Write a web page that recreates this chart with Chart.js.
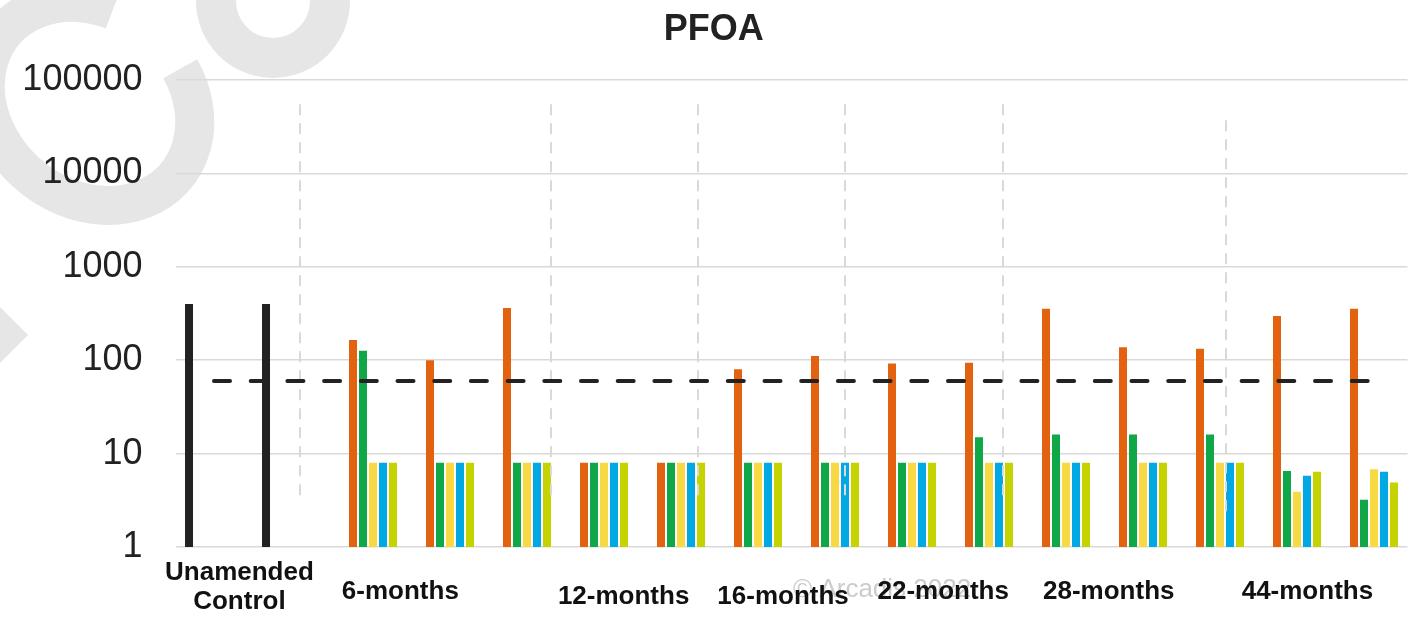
<!DOCTYPE html>
<html>
<head>
<meta charset="utf-8">
<title>PFOA</title>
<script src="https://cdn.jsdelivr.net/npm/chart.js@4.4.1/dist/chart.umd.min.js"></script>
<style>
  html, body { margin: 0; padding: 0; background: #ffffff; }
  #wrap { position: relative; width: 1409px; height: 621px; }
</style>
</head>
<body>
<div id="wrap"><canvas id="chart"></canvas></div>
<script>
// Sample columns along the x axis (two controls, then the amended samples by time point)
const samples = ['UC-1', 'UC-2',
  '6M-1', '6M-2', '6M-3',
  '12M-1', '12M-2',
  '16M-1', '16M-2',
  '22M-1', '22M-2',
  '28M-1', '28M-2', '28M-3',
  '44M-1', '44M-2'];

// PFOA concentrations per series
const controlValues = [400, 400, null, null, null, null, null, null, null, null, null, null, null, null, null, null];
const series1 = [null, null, 165, 100, 362, 8, 8, 80, 111, 92, 94, 355, 138, 133, 297, 355];
const series2 = [null, null, 126, 8, 8, 8, 8, 8, 8, 8, 15, 16, 16, 16, 6.5, 3.2];
const series3 = [null, null, 8, 8, 8, 8, 8, 8, 8, 8, 8, 8, 8, 8, 3.9, 6.8];
const series4 = [null, null, 8, 8, 8, 8, 8, 8, 8, 8, 8, 8, 8, 8, 5.8, 6.4];
const series5 = [null, null, 8, 8, 8, 8, 8, 8, 8, 8, 8, 8, 8, 8, 6.4, 4.9];

// Screening level drawn as a dashed reference line
const screeningLevel = [60, 60, 60, 60, 60, 60, 60, 60, 60, 60, 60, 60, 60, 60, 60, 60];

// Log axis tick values
const yTickValues = [1, 10, 100, 1000, 10000, 100000];

// Time-point captions under the axis
const periodLabels = [['Unamended', 'Control'], ['6-months'], ['12-months'], ['16-months'], ['22-months'], ['28-months'], ['44-months']];

// Layout of captions and group dividers (x in category units, y in axis values / pixels below the plot)
const captionLayout = [
  { x: 0.33, dy: [26, 55] },
  { x: 2.42, dy: [45] },
  { x: 5.32, dy: [50] },
  { x: 7.39, dy: [50] },
  { x: 9.47, dy: [45] },
  { x: 11.62, dy: [45] },
  { x: 14.20, dy: [45] }
];
const dividerLayout = [
  { x: 1.117, top: 55000, bottom: 3.37 },
  { x: 4.381, top: 55000, bottom: 3.37 },
  { x: 6.290, top: 55000, bottom: 3.37 },
  { x: 8.191, top: 55000, bottom: 3.37 },
  { x: 10.251, top: 55000, bottom: 3.37 },
  { x: 13.139, top: 37000, bottom: 2.2 }
];

const FONT = "'Liberation Sans', Arial, Helvetica, sans-serif";
const DEG = Math.PI / 180;

const decorations = {
  id: 'decorations',
  beforeDraw(chart) {
    // light grey logo marks in the background
    const ctx = chart.ctx;
    ctx.save();
    ctx.strokeStyle = '#e6e6e6';
    ctx.fillStyle = '#e6e6e6';
    ctx.lineWidth = 39;
    ctx.beginPath();
    ctx.ellipse(90, 104, 112, 93.5, 40 * DEG, -65.5 * DEG, 247.5 * DEG);
    ctx.stroke();
    ctx.lineWidth = 40;
    ctx.beginPath();
    ctx.arc(273, 1, 57, 0, Math.PI * 2);
    ctx.stroke();
    ctx.beginPath();
    ctx.moveTo(0, 307);
    ctx.lineTo(28, 335);
    ctx.lineTo(0, 363);
    ctx.closePath();
    ctx.fill();
    ctx.restore();
  },
  beforeDatasetDraw(chart, args) {
    // group dividers sit above the bars but below the dashed screening line
    if (args.meta.type !== 'line') return;
    const ctx = chart.ctx;
    const xs = chart.scales.x, ys = chart.scales.y;
    ctx.save();
    ctx.strokeStyle = '#d9d9d9';
    ctx.lineWidth = 2;
    ctx.setLineDash([11, 8]);
    dividerLayout.forEach(d => {
      const px = Math.round(xs.getPixelForValue(d.x));
      ctx.beginPath();
      ctx.moveTo(px, ys.getPixelForValue(d.top));
      ctx.lineTo(px, ys.getPixelForValue(d.bottom));
      ctx.stroke();
    });
    ctx.restore();
  },
  afterDraw(chart) {
    const ctx = chart.ctx;
    const xs = chart.scales.x;
    const bottom = chart.chartArea.bottom;
    ctx.save();
    ctx.textBaseline = 'middle';
    // copyright mark
    ctx.fillStyle = '#cccccc';
    ctx.textAlign = 'left';
    ctx.font = '26px ' + FONT;
    ctx.fillText('\u00A9 Arcadis 2022', 793, 590);
    // time-point captions
    ctx.fillStyle = '#111111';
    ctx.textAlign = 'center';
    ctx.font = 'bold 26px ' + FONT;
    periodLabels.forEach((lines, i) => {
      const lay = captionLayout[i];
      const px = xs.getPixelForValue(lay.x);
      lines.forEach((t, j) => ctx.fillText(t, px, bottom + lay.dy[j]));
    });
    ctx.restore();
  }
};

const barCommon = {
  type: 'bar',
  categoryPercentage: 0.779,
  barPercentage: 0.8,
  borderWidth: 0,
  order: 1
};

new Chart(document.getElementById('chart'), {
  data: {
    labels: samples,
    datasets: [
      Object.assign({ label: 'Unamended control', data: controlValues, backgroundColor: '#222222' }, barCommon),
      Object.assign({ label: 'Series 1', data: series1, backgroundColor: '#e36210' }, barCommon),
      Object.assign({ label: 'Series 2', data: series2, backgroundColor: '#10a748' }, barCommon),
      Object.assign({ label: 'Series 3', data: series3, backgroundColor: '#f7d944' }, barCommon),
      Object.assign({ label: 'Series 4', data: series4, backgroundColor: '#00a9e3' }, barCommon),
      Object.assign({ label: 'Series 5', data: series5, backgroundColor: '#c5d300' }, barCommon),
      {
        type: 'line',
        label: 'Screening level',
        data: screeningLevel,
        borderColor: '#222222',
        borderWidth: 4,
        borderDash: [16, 20.7],
        borderCapStyle: 'round',
        pointRadius: 0,
        fill: false,
        order: 0
      }
    ]
  },
  options: {
    responsive: true,
    maintainAspectRatio: false,
    animation: false,
    layout: { padding: { left: 20, right: 1.5, top: 0, bottom: 74 } },
    plugins: {
      legend: { display: false },
      tooltip: { enabled: false },
      title: {
        display: true,
        text: 'PFOA',
        color: '#222222',
        font: { family: FONT, size: 36, weight: 'bold' },
        padding: { top: 8, bottom: 28.8 }
      }
    },
    scales: {
      x: {
        type: 'category',
        display: false,
        offset: true
      },
      y: {
        type: 'logarithmic',
        min: 1,
        max: 100000,
        afterBuildTicks(scale) {
          scale.ticks = yTickValues.map(v => ({ value: v }));
        },
        afterFit(scale) {
          scale.width = 155.5;
        },
        border: { display: false },
        grid: { color: '#d9d9d9', lineWidth: 1.5, drawTicks: false },
        ticks: {
          color: '#222222',
          padding: 33,
          font: { family: FONT, size: 36 },
          callback: v => String(v)
        }
      }
    }
  },
  plugins: [decorations]
});
</script>
</body>
</html>
